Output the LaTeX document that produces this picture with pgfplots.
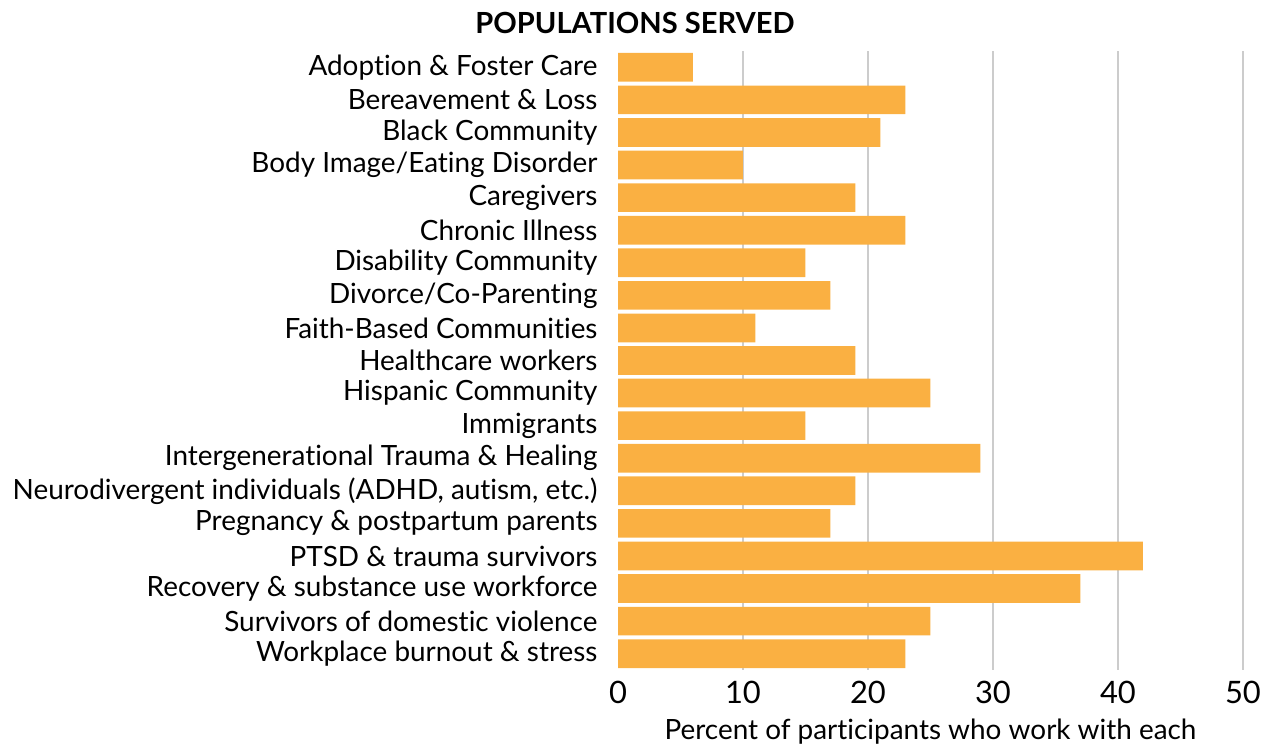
\documentclass[border=0pt]{standalone}
\usepackage{pgfplots}
\pgfplotsset{compat=1.18}
\usepackage{fontspec}
\setmainfont{Lato}[Ligatures={NoCommon}]
\definecolor{barorange}{HTML}{FAB042}
\definecolor{gridgray}{HTML}{CCCCCC}

\begin{document}
\begin{tikzpicture}
  \path[use as bounding box] (0,0) rectangle (635bp,373.5bp);
  \node[font=\fontsize{14.6}{16}\selectfont\bfseries] at (317.5bp,362bp) {POPULATIONS SERVED};
  \begin{axis}[
      at={(309bp,38.5bp)}, anchor=south west,
      width=312.5bp, height=309.5bp, scale only axis,
      xbar, bar width=0.88, bar shift=0pt,
      xmin=0, xmax=50, ymin=-0.5, ymax=18.5,
      y dir=reverse,
      xtick={10,20,30,40,50},
      extra x ticks={0}, extra x tick style={grid=none},
      xmajorgrids, grid style={gridgray, line width=0.6pt},
      ytick={0,...,18},
      yticklabels={Adoption \& Foster Care, Bereavement \& Loss, Black Community,
        Body Image/Eating Disorder, Caregivers, Chronic Illness, Disability Community,
        Divorce/Co-Parenting, Faith-Based Communities, Healthcare workers,
        Hispanic Community, Immigrants, Intergenerational Trauma \& Healing,
        {Neurodivergent individuals (ADHD, autism, etc.)}, Pregnancy \& postpartum parents,
        PTSD \& trauma survivors, Recovery \& substance use workforce,
        Survivors of domestic violence, Workplace burnout \& stress},
      axis line style={draw=none}, tick style={draw=none},
      /pgf/number format/assume math mode=true,
      yticklabel style={font=\fontsize{14}{16}\selectfont, xshift=-2.5bp},
      xticklabel style={font=\fontsize{15.5}{17}\selectfont, yshift=-2bp},
      xlabel={Percent of participants who work with each},
      xlabel style={font=\fontsize{14}{16}\selectfont, yshift=-1bp},
    ]
    \addplot[fill=barorange, draw=none] coordinates {
      (6,0) (23,1) (21,2) (10,3) (19,4) (23,5) (15,6) (17,7) (11,8) (19,9)
      (25,10) (15,11) (29,12) (19,13) (17,14) (42,15) (37,16) (25,17) (23,18)};
  \end{axis}
\end{tikzpicture}
\end{document}
